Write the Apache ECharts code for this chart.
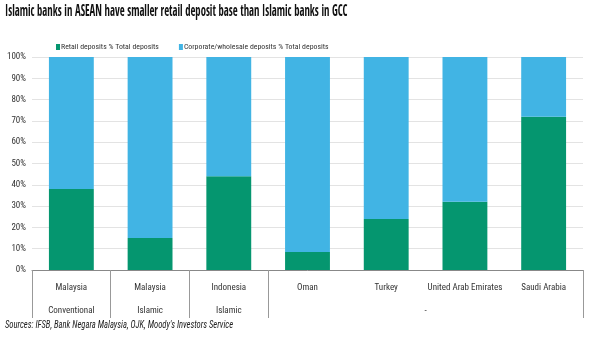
<!DOCTYPE html>
<html><head><meta charset="utf-8">
<script src="https://cdn.jsdelivr.net/npm/echarts@6/dist/echarts.min.js"></script>
<style>html,body{margin:0;padding:0;background:#fff}#c{width:600px;height:360px}</style>
</head><body><div id="c"></div>
<script>
const titleText = 'Islamic banks in ASEAN have smaller retail deposit base than Islamic banks in GCC';
const sourceText = 'Sources: IFSB, Bank Negara Malaysia, OJK, Moody\'s Investors Service';
const categories = ['Malaysia','Malaysia','Indonesia','Oman','Turkey','United Arab Emirates','Saudi Arabia'];
const groupLabels = ['Conventional','Islamic','Islamic','-'];
const groupSizes = [1,1,1,4];
const seriesNames = ['Retail deposits % Total deposits','Corporate/wholesale deposits % Total deposits'];
const retail = [38, 15, 44, 8.5, 24, 32, 72];
const corporate = [62, 85, 56, 91.5, 76, 68, 28];

const bounds = [0]; const centers = [];
groupSizes.forEach((s,i)=>{ centers.push(bounds[i] + s/2); bounds.push(bounds[i] + s); });
const labelMap = {}; centers.forEach((c,i)=>labelMap[c.toFixed(2)] = groupLabels[i]);

const font = '"Roboto Condensed", "Open Sans Condensed", sans-serif';
const chart = echarts.init(document.getElementById('c'));
chart.setOption({
  animation: false,
  graphic: [
    {type:'text', left: 5, top: 4, scaleX: 0.665, originX: 0,
      style:{text: titleText, font: 'normal 16px "Open Sans Condensed", "Roboto Condensed", sans-serif', fill:'#111'}},
    {type:'text', left: 5, top: 320, scaleX: 0.78, originX: 0,
      style:{text: sourceText, font: 'italic 11px "Roboto Condensed", sans-serif', fill:'#222'}}
  ],
  legend: {left: 51, top: 38, itemWidth: 4, itemHeight: 6, icon: 'rect', itemGap: 20,
    textStyle:{fontFamily:font, fontSize:7.8, color:'#333', padding:[0,0,0,-4]}, data: seriesNames},
  grid: {left: 32, right: 17, top: 57, bottom: 90},
  xAxis: [{type:'category', data: categories, axisTick:{show:false},
    axisLine:{lineStyle:{color:'#888'}},
    axisLabel:{interval:0, fontFamily:font, fontSize:9, color:'#333', margin:13}},
   {type:'value', position:'bottom', min:0, max:categories.length, splitLine:{show:false},
    axisLine:{show:false},
    axisTick:{show:true, customValues: bounds, length:48, lineStyle:{color:'#999'}},
    axisLabel:{customValues: centers, margin:36, fontFamily:font, fontSize:9, color:'#333',
      formatter: v => labelMap[Number(v).toFixed(2)] || ''}}],
  yAxis: {type:'value', min:0, max:100, interval:10,
    axisLabel:{formatter: v=>v+'%', fontFamily:font, fontSize:9, color:'#333', margin:6},
    splitLine:{lineStyle:{color:'#e3e3e3'}}, axisLine:{show:false}, axisTick:{show:false}},
  series: [
    {name: seriesNames[0], type:'bar', stack:'a', data: retail, barWidth:'57%', itemStyle:{color:'#05966f'}},
    {name: seriesNames[1], type:'bar', stack:'a', data: corporate, barWidth:'57%', itemStyle:{color:'#41b4e4'}}
  ]
});
</script></body></html>
